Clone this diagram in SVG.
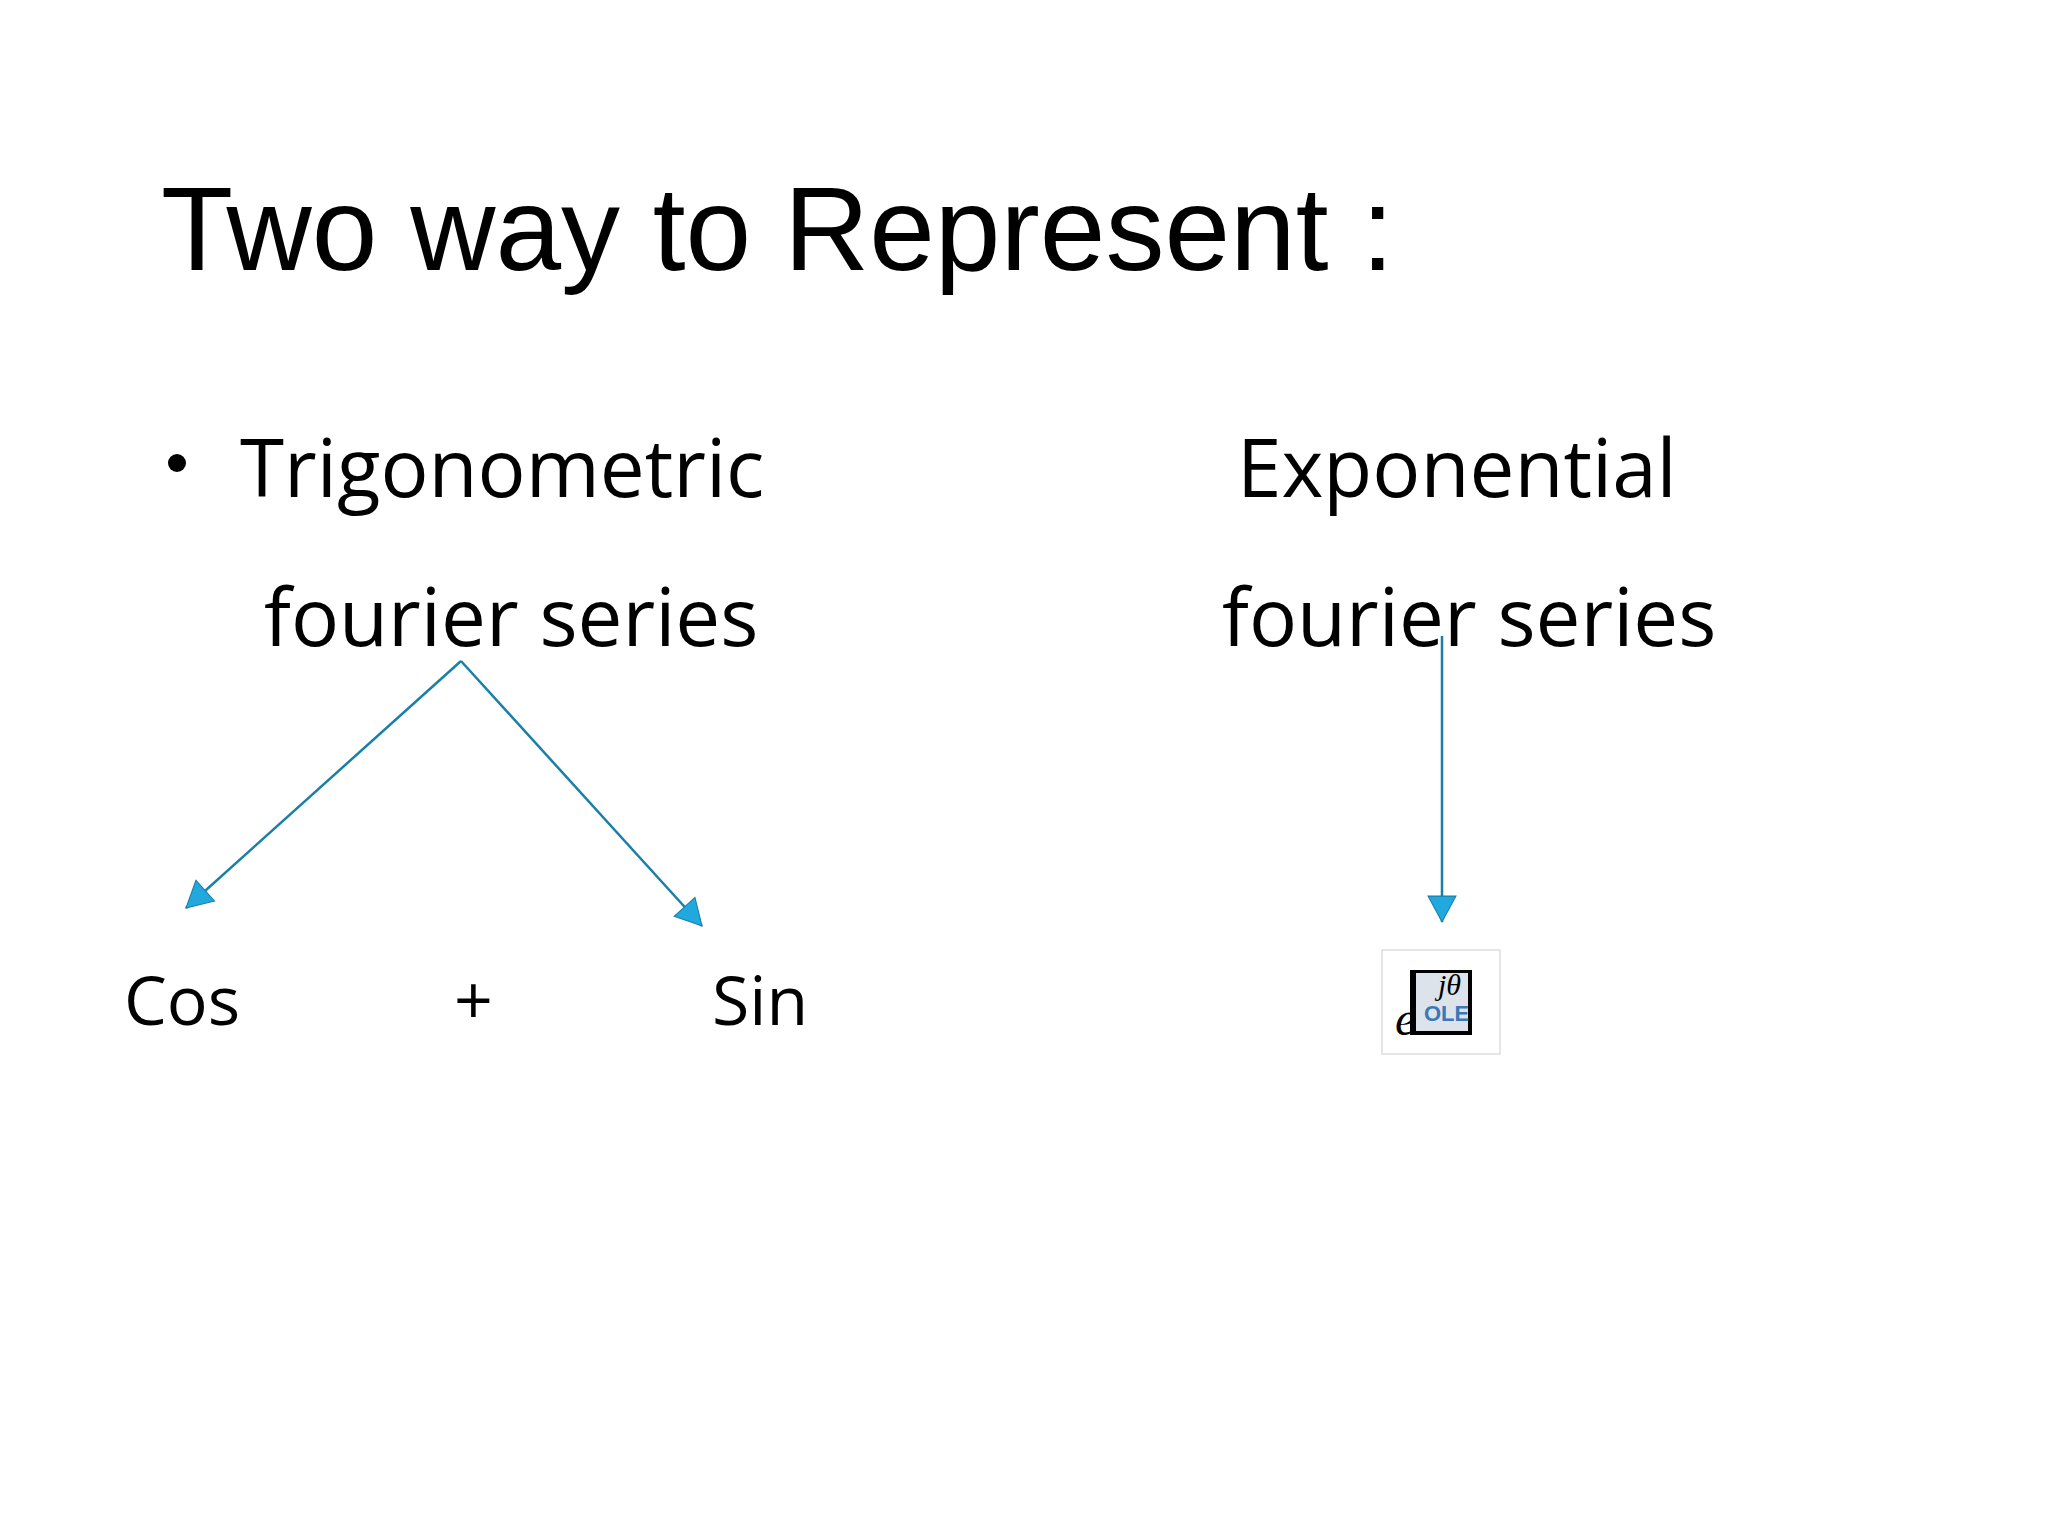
<svg xmlns="http://www.w3.org/2000/svg" width="2048" height="1536" viewBox="0 0 2048 1536">
<style>
.t{font-family:"Liberation Sans",Arial,sans-serif;fill:#000}
.c{font-family:"Open Sans","Noto Sans",sans-serif;fill:#000}
.ln{stroke:#1a7fa8;stroke-width:2.5;fill:none;marker-end:url(#ah)}
</style>
<defs>
<marker id="ah" viewBox="0 0 20 20" refX="19" refY="10" markerWidth="14" markerHeight="14" markerUnits="userSpaceOnUse" orient="auto" overflow="visible">
<path d="M-18,-10 L19,10 L-18,30 Z" transform="scale(1)" fill="#20a8df" stroke="#1a7fa8" stroke-width="1.5"/>
</marker>
</defs>
<rect width="2048" height="1536" fill="#fff"/>
<text class="t" x="161" y="270" font-size="118">Two way to Represent :</text>
<g id="trig">
<circle cx="177" cy="463" r="9" fill="#000"/>
<text class="c" x="240" y="497" font-size="80">Trigonometric</text>
<text class="c" x="264" y="646" font-size="80">fourier series</text>
</g>
<g id="exp">
<text class="c" x="1237" y="497" font-size="80">Exponential</text>
<text class="c" x="1222" y="646" font-size="80">fourier series</text>
</g>
<g id="cos"><text class="c" x="124" y="1025" font-size="68">Cos</text></g>
<g id="plus"><text class="c" x="454" y="1025" font-size="68">+</text></g>
<g id="sin"><text class="c" x="712" y="1025" font-size="68">Sin</text></g>
<g id="ole">
<rect x="1382" y="950" width="118" height="104" fill="#fff" stroke="#ddd" stroke-width="1.5"/>
<rect x="1410" y="970" width="62" height="65" fill="#000"/>
<rect x="1416" y="973" width="52" height="58" fill="#dde3ea"/>
<text x="1424" y="1021" font-family="Liberation Sans,sans-serif" font-size="22" font-weight="bold" fill="#3a78b8">OLE</text>
<text x="1395" y="1035" font-family="Liberation Serif,serif" font-style="italic" font-size="48">e</text>
<text x="1438" y="995" font-family="Liberation Serif,serif" font-style="italic" font-size="30">jθ</text>
</g>
<g id="connectors">
<line class="ln" x1="461" y1="661" x2="186" y2="908"/>
<line class="ln" x1="461" y1="661" x2="702" y2="926"/>
<line class="ln" x1="1442" y1="636" x2="1442" y2="922"/>
</g>
</svg>
